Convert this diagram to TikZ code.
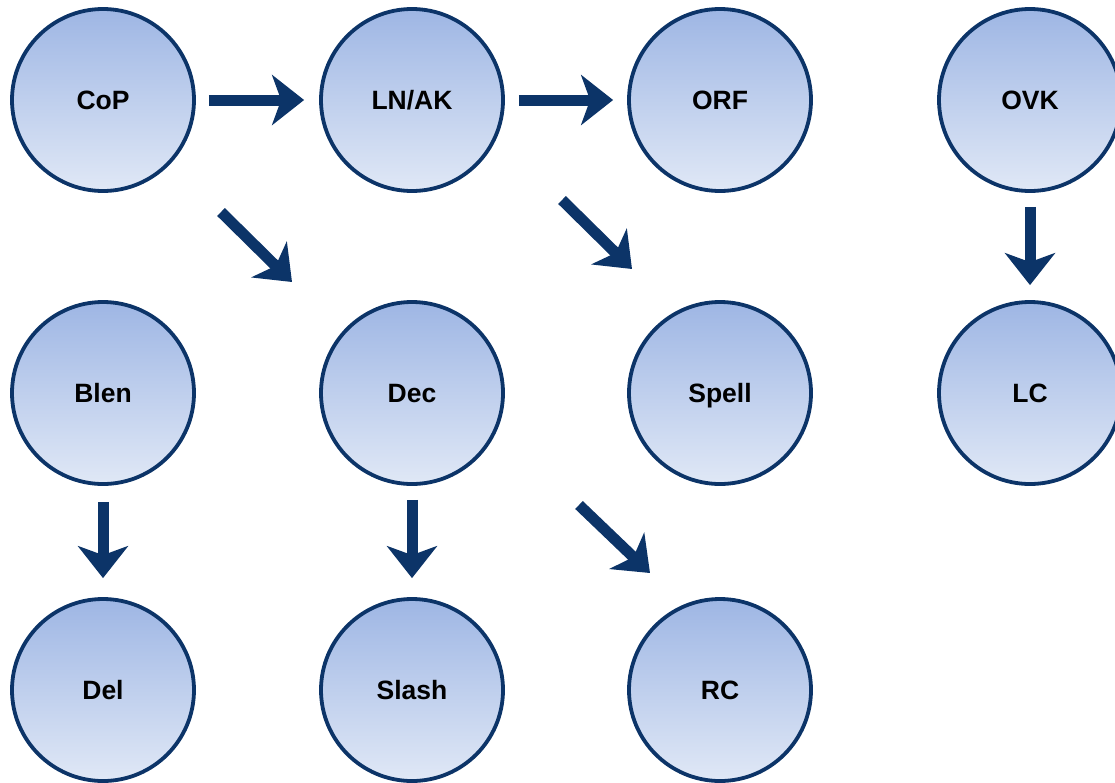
\documentclass[tikz,border=0pt]{standalone}
\usepackage{fontspec}
\setmainfont{Liberation Sans}
\usetikzlibrary{arrows.meta,calc}
\definecolor{navy}{RGB}{12,52,104}
\definecolor{ctop}{RGB}{158,182,228}
\definecolor{cbot}{RGB}{224,232,246}
\begin{document}
\begin{tikzpicture}[x=1pt,y=-1pt,
  circ/.style={circle,draw=navy,line width=3.8pt,minimum size=182pt,inner sep=0pt,
    top color=ctop,bottom color=cbot,font=\fontsize{26.5}{30}\selectfont\bfseries,text=black,
    text height=19pt,text depth=0pt},
  arr/.style={draw=navy,line width=11pt,-{Stealth[length=32pt,width=50pt,inset=9pt]}}]
\useasboundingbox[clip] (0,0) rectangle (1115,782);
\node[circ] (cop) at (103,100) {CoP};
\node[circ] (lnak) at (412,100) {LN/AK};
\node[circ] (orf) at (720,100) {ORF};
\node[circ] (ovk) at (1030,100) {OVK};
\node[circ] (blen) at (103,393) {Blen};
\node[circ] (dec) at (412,393) {Dec};
\node[circ] (spell) at (720,393) {Spell};
\node[circ] (lc) at (1030,393) {LC};
\node[circ] (del) at (103,690) {Del};
\node[circ] (slash) at (412,690) {Slash};
\node[circ] (rc) at (720,690) {RC};
\coordinate (s1) at ($(cop)+(118,112)$);
\coordinate (e1) at ($(dec)+(-120,-111)$);
\coordinate (s2) at ($(lnak)+(150,100)$);
\coordinate (e2) at ($(spell)+(-88,-124)$);
\coordinate (s3) at ($(dec)+(167,112)$);
\coordinate (e3) at ($(rc)+(-70,-117)$);
\draw[arr,shorten <=13pt,shorten >=15pt] (cop.east) -- (lnak.west);
\draw[arr,shorten <=14pt,shorten >=14pt] (lnak.east) -- (orf.west);
\draw[arr,shorten <=14pt,shorten >=15pt] (ovk.south) -- (lc.north);
\draw[arr,shorten <=16pt,shorten >=19pt] (blen.south) -- (del.north);
\draw[arr,shorten <=14pt,shorten >=19pt] (dec.south) -- (slash.north);
\draw[arr] (s1) -- (e1);
\draw[arr] (s2) -- (e2);
\draw[arr] (s3) -- (e3);
\end{tikzpicture}
\end{document}
